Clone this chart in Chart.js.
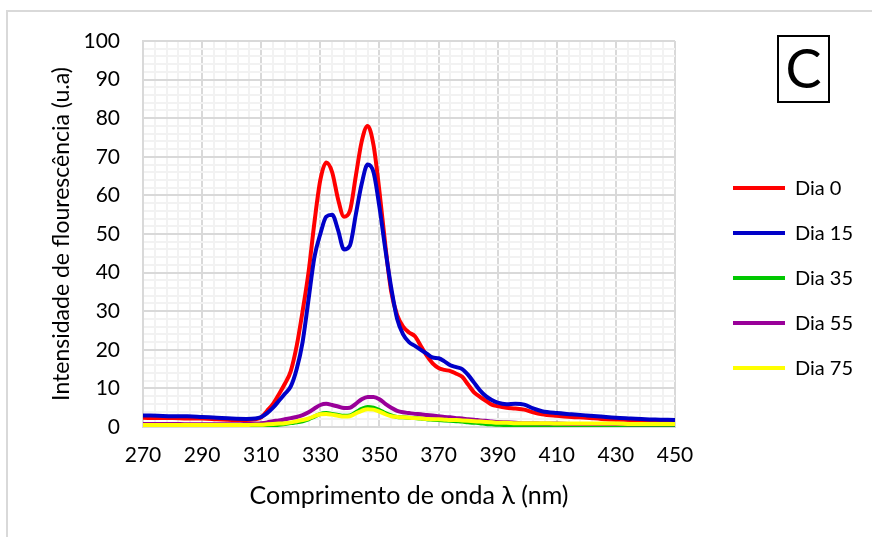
<!DOCTYPE html>
<html>
<head>
<meta charset="utf-8">
<script src="https://cdn.jsdelivr.net/npm/chart.js@4.4.0/dist/chart.umd.min.js"></script>
<style>
  body { margin: 0; background: #fff; }
  #wrap { position: relative; width: 872px; height: 537px; overflow: hidden; }
  #frame { position: absolute; left: 6px; top: 10px; width: 880px; height: 540px; border: 2px solid #d9d9d9; box-sizing: border-box; }
  #box { position: absolute; left: 0; top: 0; width: 872px; height: 537px; }
  #tag { position: absolute; left: 777px; top: 35px; width: 53px; height: 68px; border: 2px solid #000; box-sizing: border-box; font-family: Lato; font-size: 54px; line-height: 62px; text-align: center; color: #000; }
</style>
</head>
<body>
<div id="wrap">
  <div id="frame"></div>
  <div id="box"><canvas id="chart"></canvas></div>
  <div id="tag">C</div>
</div>
<script>
// wavelength (nm)
const wl = [270, 275, 280, 285, 290, 295, 300, 305, 308,
  310, 312, 314, 316, 318, 320, 322, 324, 326, 328, 330, 332, 334, 336, 338, 340,
  342, 344, 346, 348, 350, 352, 354, 356, 358, 360, 362, 364, 366, 368, 370,
  372, 374, 376, 378, 380, 382, 384, 386, 388, 390,
  393, 396, 399, 402, 405,
  410, 415, 420, 425, 430, 435, 440, 445, 450];

const dia0 = [2.4, 2.3, 2.3, 2.2, 2.2, 2.0, 1.8, 1.8, 2.0,
  2.5, 4.2, 6.0, 8.5, 11.2, 14.5, 21, 30, 40, 53, 64, 68.5, 66, 59, 54.5, 56,
  65, 74, 78, 73, 61, 47, 35, 29, 26, 24.5, 23.5, 21, 18.5, 16.5, 15.3,
  14.8, 14.5, 13.8, 13, 11, 9, 7.8, 6.8, 5.8, 5.4,
  5.0, 4.8, 4.5, 3.8, 3.3,
  2.9, 2.6, 2.4, 2.1, 1.9, 1.8, 1.6, 1.5, 1.4];

const dia15 = [3.0, 2.9, 2.8, 2.8, 2.6, 2.4, 2.2, 2.1, 2.2,
  2.6, 3.6, 5.0, 6.8, 8.6, 10.5, 15, 22, 33, 44, 50, 54.5, 55, 51, 46, 47,
  55, 63, 68, 66, 57, 46, 36, 28, 24, 22, 21, 20, 19, 18, 17.8,
  17, 16, 15.5, 15, 13.5, 11.5, 9.5, 8, 7, 6.3,
  5.9, 6.0, 5.8, 4.8, 4.1,
  3.6, 3.3, 3.0, 2.7, 2.4, 2.2, 2.0, 1.9, 1.8];

const dia35 = [0.2, 0.2, 0.2, 0.2, 0.2, 0.2, 0.2, 0.2, 0.3,
  0.3, 0.4, 0.5, 0.6, 0.8, 1.0, 1.2, 1.5, 2.0, 2.7, 3.4, 3.6, 3.4, 3.1, 2.9, 3.0,
  3.8, 4.7, 5.2, 5.0, 4.4, 3.6, 3.0, 2.6, 2.5, 2.4, 2.3, 2.2, 2.0, 1.9, 1.8,
  1.7, 1.6, 1.5, 1.4, 1.2, 1.1, 1.0, 0.8, 0.7, 0.6,
  0.5, 0.5, 0.4, 0.4, 0.4,
  0.3, 0.3, 0.3, 0.3, 0.3, 0.2, 0.2, 0.2, 0.2];

const dia55 = [0.8, 0.8, 0.8, 0.7, 0.7, 0.7, 0.7, 0.8, 0.9,
  1.0, 1.2, 1.5, 1.7, 2.0, 2.3, 2.6, 3.1, 3.8, 4.8, 5.7, 6.0, 5.7, 5.3, 4.9, 5.0,
  6.0, 7.2, 7.8, 7.8, 7.2, 6.0, 5.0, 4.2, 3.8, 3.6, 3.4, 3.3, 3.1, 3.0, 2.8,
  2.6, 2.5, 2.3, 2.2, 2.0, 1.9, 1.7, 1.6, 1.4, 1.3,
  1.2, 1.1, 1.0, 1.0, 0.9,
  0.9, 0.8, 0.8, 0.8, 0.8, 0.7, 0.7, 0.7, 0.7];

const dia75 = [0.5, 0.5, 0.5, 0.5, 0.5, 0.5, 0.5, 0.5, 0.6,
  0.6, 0.7, 0.8, 0.9, 1.0, 1.2, 1.5, 1.8, 2.2, 2.8, 3.3, 3.4, 3.2, 2.9, 2.7, 2.8,
  3.5, 4.2, 4.6, 4.5, 4.0, 3.3, 2.8, 2.6, 2.5, 2.4, 2.3, 2.2, 2.1, 2.0, 2.0,
  1.9, 1.8, 1.8, 1.7, 1.6, 1.5, 1.4, 1.3, 1.2, 1.1,
  1.1, 1.0, 1.0, 1.0, 1.0,
  0.9, 0.9, 0.9, 0.9, 0.9, 0.8, 0.8, 0.8, 0.8];

const seriesNames = ["Dia 0", "Dia 15", "Dia 35", "Dia 55", "Dia 75"];
const seriesColors = ["#ff0000", "#0000c8", "#00c800", "#990099", "#ffff00"];
const seriesValues = [dia0, dia15, dia35, dia55, dia75];

const isMajorX = (v) => (v - 270) % 20 === 0;
const isMajorY = (v) => v % 10 === 0;

Chart.defaults.font.family = "Lato";
Chart.defaults.color = "#000";

var datasets = seriesValues.map((vals, i) => ({
  label: seriesNames[i],
  data: wl.map((w, j) => ({ x: w, y: vals[j] })),
  borderColor: seriesColors[i],
  backgroundColor: seriesColors[i],
  borderWidth: 4,
  pointRadius: 0,
  cubicInterpolationMode: "monotone",
  order: seriesValues.length - i, // later series drawn on top, like excel
}));

var chart = new Chart(document.getElementById("chart"), {
  type: "line",
  data: { datasets: datasets },
  options: {
    responsive: true,
    maintainAspectRatio: false,
    animation: false,
    layout: { padding: { left: 48, top: 41, right: 14, bottom: 26 } },
    plugins: {
      tooltip: { enabled: false },
      legend: {
        position: "right",
        reverse: true,
        maxWidth: 150,
        title: { display: true, text: "", font: { size: 1 }, padding: 1.5 },
        labels: {
          usePointStyle: true,
          pointStyle: "line",
          pointStyleWidth: 52,
          padding: 25,
          font: { size: 20 },
        },
      },
    },
    scales: {
      x: {
        type: "linear",
        min: 270,
        max: 450,
        ticks: {
          stepSize: 4,
          autoSkip: false,
          maxRotation: 0,
          padding: 16,
          font: { size: 21 },
          callback: (v) => (isMajorX(v) ? v : ""),
        },
        grid: {
          drawTicks: false,
          lineWidth: 2,
          color: (ctx) => (isMajorX(ctx.tick.value) ? "#d9d9d9" : "#f2f2f2"),
        },
        border: { color: "#d9d9d9", width: 2 },
        title: { display: true, text: "Comprimento de onda λ (nm)", font: { size: 25 }, padding: 0 },
        afterFit: (s) => { s.height = 84; },
      },
      y: {
        min: 0,
        max: 100,
        ticks: {
          stepSize: 2,
          autoSkip: false,
          padding: 23,
          font: { size: 21 },
          callback: (v) => (isMajorY(v) ? v : ""),
        },
        grid: {
          drawTicks: false,
          lineWidth: 2,
          color: (ctx) => (isMajorY(ctx.tick.value) ? "#d9d9d9" : "#f2f2f2"),
        },
        border: { color: "#d9d9d9", width: 2 },
        title: { display: true, text: "Intensidade de flourescência (u.a)", font: { size: 23 }, padding: 0 },
        afterFit: (s) => { s.width = 95; s.paddingTop = 0; s.paddingBottom = 0; },
      },
      // empty axis, only keeps the gap between plot and legend
      gap: {
        position: "right",
        display: true,
        grid: { display: false },
        border: { display: false },
        ticks: { display: false },
        afterFit: (s) => { s.width = 33; },
      },
    },
  },
});
</script>
</body>
</html>
